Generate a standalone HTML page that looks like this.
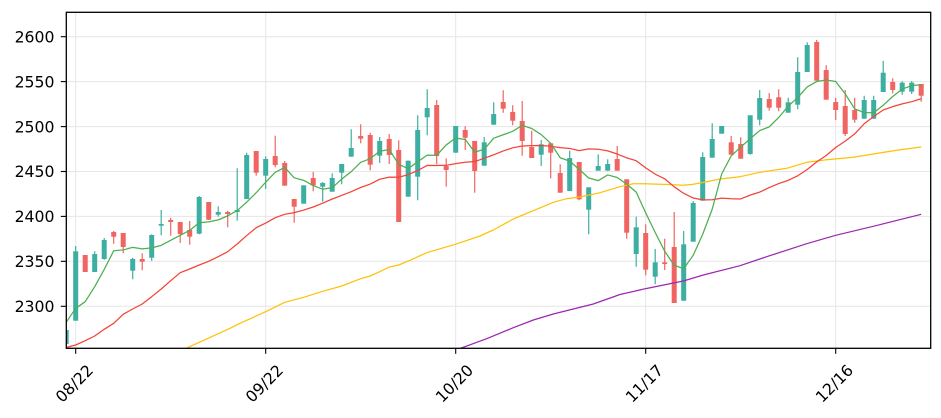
<!DOCTYPE html>
<html><head><meta charset="utf-8"><style>
html,body{margin:0;padding:0;background:#fff;}
svg{display:block;}
text{font-family:"DejaVu Sans","Liberation Sans",sans-serif;font-size:15.7px;fill:#000;}
</style></head><body>
<svg id="c" width="941" height="418" viewBox="0 0 941 418" xmlns="http://www.w3.org/2000/svg">
<defs><clipPath id="pa"><rect x="66.3" y="12.3" width="864.4" height="336"/></clipPath></defs>
<g stroke="#e6e6e6" stroke-width="1">
<line x1="66.3" x2="930.7" y1="36.7" y2="36.7"/>
<line x1="66.3" x2="930.7" y1="81.6" y2="81.6"/>
<line x1="66.3" x2="930.7" y1="126.6" y2="126.6"/>
<line x1="66.3" x2="930.7" y1="171.5" y2="171.5"/>
<line x1="66.3" x2="930.7" y1="216.4" y2="216.4"/>
<line x1="66.3" x2="930.7" y1="261.3" y2="261.3"/>
<line x1="66.3" x2="930.7" y1="306.3" y2="306.3"/>
<line y1="12.3" y2="348.3" x1="75.7" x2="75.7"/>
<line y1="12.3" y2="348.3" x1="265.7" x2="265.7"/>
<line y1="12.3" y2="348.3" x1="455.7" x2="455.7"/>
<line y1="12.3" y2="348.3" x1="645.7" x2="645.7"/>
<line y1="12.3" y2="348.3" x1="835.7" x2="835.7"/>
</g>
<g id="plot" clip-path="url(#pa)"></g>
<rect x="66.3" y="12.3" width="864.4" height="336" fill="none" stroke="#000" stroke-width="1.3"/>
<g stroke="#000" stroke-width="1.1">
<line x1="60.8" x2="66.3" y1="36.7" y2="36.7"/>
<line x1="60.8" x2="66.3" y1="81.6" y2="81.6"/>
<line x1="60.8" x2="66.3" y1="126.6" y2="126.6"/>
<line x1="60.8" x2="66.3" y1="171.5" y2="171.5"/>
<line x1="60.8" x2="66.3" y1="216.4" y2="216.4"/>
<line x1="60.8" x2="66.3" y1="261.3" y2="261.3"/>
<line x1="60.8" x2="66.3" y1="306.3" y2="306.3"/>
<line y1="348.3" y2="353.8" x1="75.7" x2="75.7"/>
<line y1="348.3" y2="353.8" x1="265.7" x2="265.7"/>
<line y1="348.3" y2="353.8" x1="455.7" x2="455.7"/>
<line y1="348.3" y2="353.8" x1="645.7" x2="645.7"/>
<line y1="348.3" y2="353.8" x1="835.7" x2="835.7"/>
</g>
<g text-anchor="end">
<text x="54.5" y="42.4">2600</text>
<text x="54.5" y="87.3">2550</text>
<text x="54.5" y="132.3">2500</text>
<text x="54.5" y="177.2">2450</text>
<text x="54.5" y="222.1">2400</text>
<text x="54.5" y="267.0">2350</text>
<text x="54.5" y="312.0">2300</text>
</g>
<g text-anchor="middle">
<text x="74.2" y="389.0" transform="rotate(-45 74.2 383.3)">08/22</text>
<text x="264.2" y="389.0" transform="rotate(-45 264.2 383.3)">09/22</text>
<text x="454.2" y="389.0" transform="rotate(-45 454.2 383.3)">10/20</text>
<text x="644.2" y="389.0" transform="rotate(-45 644.2 383.3)">11/17</text>
<text x="834.2" y="389.0" transform="rotate(-45 834.2 383.3)">12/16</text>
</g>
</svg>
<script>
(function(){
var X0=75.7-9.5, DX=9.5;
var D=[
['t',330,344,330,344],
['t',251.3,320.7,246,320.7],
['r',255,272,255,272],
['t',254,272,251.3,272],
['t',240,259,238,259.7],
['r',232,236.7,231,243.7],
['r',233,247,233,253.3],
['t',259,270.7,257.7,279.3],
['r',259,261.7,253.3,270.3],
['t',235,257.7,234.3,260.7],
['t',224,225.7,210,235.3],
['r',220,222,217.7,235.7],
['r',222,234,222,243],
['r',230,236.7,221,244.7],
['t',197,233.7,196,234.3],
['r',202,219.7,202,220],
['t',212,214.7,206.3,216.7],
['r',212,214,210.7,227.3],
['t',210,212,168.3,220.7],
['t',155,199,152.7,199],
['r',151,172.7,151,175.7],
['t',159,175.7,156.3,189],
['r',156,165,135.7,167.3],
['r',163,185.7,161,185.7],
['r',199,206.7,199,222.7],
['t',185.3,203.7,185.3,203.7],
['r',178,185.3,172,191.3],
['t',183,186.7,182,201.7],
['t',178,191.7,173.3,191.7],
['t',164,172.7,164,184.3],
['t',148,156.7,129.3,156.7],
['r',136,138.7,124.3,143.3],
['r',135,164.7,132.7,170.3],
['t',141,155.7,137,163],
['r',139,155,134,164],
['r',150,222,140.3,222],
['t',160.7,196.7,160.7,196.7],
['t',130,176.7,115.3,200.3],
['t',108,117.3,89.3,135.3],
['r',105,156,100,164.3],
['r',166,170,158.3,186.7],
['t',126,152.7,126,152.7],
['r',130,137.7,126.3,150],
['r',141,171,141,192.7],
['t',142.3,165.7,137,165.7],
['t',114,124.7,102.3,124.7],
['r',102,108.7,90.3,112.7],
['r',112,120.7,105.3,125.3],
['r',121,141,101,155.7],
['r',147,158,130.7,158],
['t',144.3,154.7,140,166],
['r',143.3,152.7,143.3,178.3],
['r',173,192.7,164.3,192.7],
['t',158,191,150.7,191],
['r',162,199.3,162,200.3],
['t',187.3,209.7,187.3,234.3],
['t',166,170.7,154.3,170.7],
['t',164,170.7,159.3,170.7],
['r',159,170.7,146,170.7],
['r',179.3,232.7,179.3,238.7],
['t',227.3,254,216.7,266.7],
['r',233,269.7,224.3,275.3],
['t',262.3,276.7,249,284.3],
['r',262.3,264,238.7,270],
['r',247,303,212,303],
['t',244.3,300.7,231,300.7],
['t',203,241.7,201,241.7],
['t',157,200.7,152.3,200.7],
['t',139,157.7,123.3,157.7],
['t',126,133.7,126,133.7],
['r',142.3,154.7,136,154.7],
['r',144,158.7,137.3,158.7],
['t',115.3,154,115.3,154.7],
['t',98,119.7,90,125.3],
['r',99,107.7,93,110.7],
['r',97.3,107.7,89.3,111.3],
['t',102.3,112.7,97.7,112.7],
['t',72,104.7,57.3,109.3],
['t',45,72,42.3,72],
['r',42,80.7,40,80.7],
['r',70,99.7,65.3,99.7],
['r',102,110,97.7,120],
['r',106,134,90,136],
['r',110,119.7,97.7,122.7],
['t',100,118.7,95.7,118.7],
['t',100,118.7,95.7,118.7],
['t',72.7,92,60.7,92],
['r',82,90,78.3,93.3],
['t',82.7,91.7,81.3,94.7],
['t',82.7,91.7,81.3,94],
['r',84,95.7,84,101.7]
];
var TEAL='#3cafa2', RED='#f06461';
var s='';
var closes=[];
for(var k=0;k<D.length;k++){
  var d=D[k], x=X0+DX*k, c=d[0]=='t'?TEAL:RED;
  closes.push(d[0]=='t'?d[1]:d[2]);
  s+='<line x1="'+x.toFixed(2)+'" x2="'+x.toFixed(2)+'" y1="'+d[3]+'" y2="'+d[4]+'" stroke="'+c+'" stroke-width="1.2"/>';
  var h=Math.max(d[2]-d[1],1.2);
  s+='<rect x="'+(x-2.5).toFixed(2)+'" y="'+d[1]+'" width="5" height="'+h.toFixed(2)+'" fill="'+c+'"/>';
}
function pl(pts,col){
  return '<polyline fill="none" stroke="'+col+'" stroke-width="1.25" stroke-linejoin="round" points="'+pts.map(function(p){return p[0].toFixed(2)+','+p[1].toFixed(2);}).join(' ')+'"/>';
}
var r0=[347.5,345,340.7,336,329.3,323.3,314.3,309,304,296.7,289,280.7,272.7,269,265,261.3,256.7,251.7,244];
var red=[];
for(var k=0;k<D.length;k++){
  var y;
  if(k<r0.length) y=r0[k];
  else {var sm=0; for(var j=k-19;j<=k;j++) sm+=closes[j]; y=sm/20;}
  red.push([X0+DX*k,y]);
}
var g0=[322.3,308.3,301.7,286.7];
var gr=[];
for(var k=0;k<D.length;k++){
  var y;
  if(k<4) y=g0[k];
  else {var sm=0; for(var j=k-4;j<=k;j++) sm+=closes[j]; y=sm/5;}
  gr.push([X0+DX*k,y]);
}
var yel=[[186,348.8],[188.3,347.3],[230,328.3],[240,323.3],[265.7,311.7],[284.7,302.3],[303.7,297.3],[322.7,291.3],[341.7,286],[360.7,278.7],[370.2,276],[379.7,271.7],[389.2,267],[398.7,265],[410,260.3],[426.7,252.7],[455.3,244.3],[480,236],[493.3,230],[513.3,219],[533.3,210.7],[553.3,202.3],[566.7,198.7],[580,197],[600,192.7],[620,186.7],[633.3,183.7],[645.3,183.7],[673.3,184.7],[683.3,185.3],[693.3,184.3],[706.7,181.7],[720,179],[740,176.7],[760,172.3],[786.7,168.3],[806.7,162.3],[826.7,159.7],[853.3,157.3],[873.3,154],[900,149.7],[921.2,147]];
var pur=[[458,349.3],[460,348.5],[486.7,338.7],[513.3,327.7],[533.3,320],[553.3,314],[573.3,309],[593.3,304],[620,294.5],[645.3,288.7],[683.3,281],[703.3,275],[740,265.7],[766.7,256.7],[806.7,243.7],[835.7,235.3],[873.3,226.3],[921.2,214.3]];
s+=pl(pur,'#9c27b0');
s+=pl(yel,'#ffc107');
s+=pl(red,'#f44336');
s+=pl(gr,'#4caf50');
document.getElementById('plot').innerHTML=s;
})();
</script>
</body></html>
